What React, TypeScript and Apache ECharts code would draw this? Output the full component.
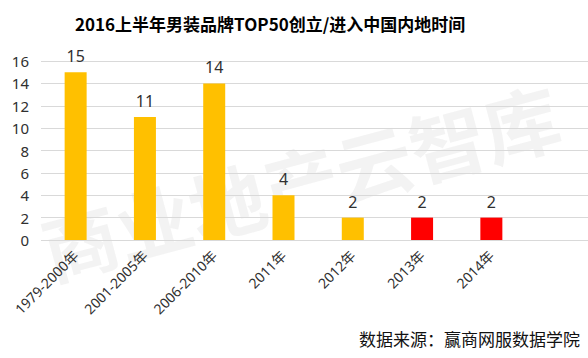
import React, { useEffect, useRef } from "react";
import * as echarts from "echarts";

const categories = ["1979-2000年", "2001-2005年", "2006-2010年", "2011年", "2012年", "2013年", "2014年"];
const counts = [15, 11, 14, 4, 2, 2, 2];
const barColors = ["#FFC000", "#FFC000", "#FFC000", "#FFC000", "#FFC000", "#FF0000", "#FF0000"];
const yTicks = { min: 0, max: 16, interval: 2 };
const titleText = "2016上半年男装品牌TOP50创立/进入中国内地时间";
const sourceText = "数据来源：赢商网服数据学院";
const watermark = "商业地产云智库";

export default function App() {
  const ref = useRef<HTMLDivElement>(null);
  useEffect(() => {
    if (!ref.current) return;
    const chart = echarts.init(ref.current, null, { renderer: "svg" });
    const font = "'Noto Sans', 'Noto Sans CJK SC', sans-serif";
    chart.setOption({
      animation: false,
      backgroundColor: "#ffffff",
      grid: [
        { left: 41, top: 61, bottom: 118, width: 485, containLabel: false },
        { left: 41, top: 61, bottom: 118, right: 0, containLabel: false },
      ],
      xAxis: [
        {
          type: "category",
          gridIndex: 0,
          data: categories,
          axisLine: { show: false },
          axisTick: { show: false },
          axisLabel: {
            rotate: 45,
            fontSize: 14,
            color: "#303030",
            margin: 13,
            fontFamily: font,
          },
        },
        { type: "value", gridIndex: 1, min: 0, max: 1, show: false },
      ],
      yAxis: [
        {
          type: "value",
          gridIndex: 0,
          min: yTicks.min,
          max: yTicks.max,
          interval: yTicks.interval,
          axisLine: { show: false },
          axisTick: { show: false },
          splitLine: { show: false },
          axisLabel: { fontSize: 15, color: "#303030", margin: 12, fontFamily: font },
        },
        {
          type: "value",
          gridIndex: 1,
          min: yTicks.min,
          max: yTicks.max,
          interval: yTicks.interval,
          axisLine: { show: false },
          axisTick: { show: false },
          axisLabel: { show: false },
          splitLine: { show: true, lineStyle: { color: "#d9d9d9", width: 1 } },
        },
      ],
      graphic: [
        {
          type: "text",
          x: 300,
          y: 180,
          rotation: (15 * Math.PI) / 180,
          z: -1,
          silent: true,
          style: {
            text: watermark,
            fontSize: 76,
            fontWeight: "bold",
            fontFamily: "'Noto Sans CJK SC', sans-serif",
            fill: "rgba(200,200,200,0.22)",
            align: "center",
            verticalAlign: "middle",
          },
        },
        {
          type: "text",
          left: 75,
          top: 15,
          style: {
            text: titleText,
            fontSize: 17,
            fontWeight: "bold",
            fontFamily: "'Noto Sans CJK SC', sans-serif",
            fill: "#000000",
          },
        },
        {
          type: "text",
          right: 8,
          top: 330,
          style: {
            text: sourceText,
            fontSize: 17,
            fontFamily: "'Noto Sans CJK SC', sans-serif",
            fill: "#111111",
          },
        },
      ],
      series: [
        {
          type: "bar",
          xAxisIndex: 0,
          yAxisIndex: 0,
          barWidth: 22,
          data: counts.map((v, i) => ({ value: v, itemStyle: { color: barColors[i] } })),
          label: {
            show: true,
            position: "top",
            distance: 8,
            fontSize: 16,
            color: "#303030",
            fontFamily: font,
          },
        },
      ],
    });
    return () => chart.dispose();
  }, []);
  return <div ref={ref} style={{ position: "fixed", left: 0, top: 0, width: 588, height: 358 }} />;
}
